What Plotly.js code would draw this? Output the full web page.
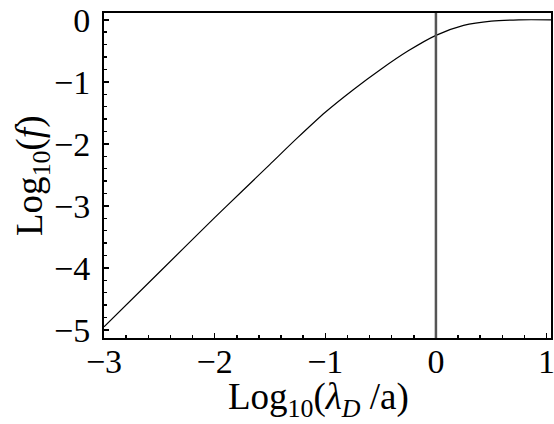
<!DOCTYPE html>
<html>
<head>
<meta charset="utf-8">
<script src="https://cdn.plot.ly/plotly-3.0.1.min.js"></script>
<style>
  body { margin: 0; background: #fff; }
  #chart { width: 554px; height: 424px; }
</style>
</head>
<body>
<div id="chart"></div>
<script>
// curve: log10(lambda_D / a) vs log10(f)
const logLambda = [-3, -2.5, -2, -1.75, -1.5, -1.25, -1, -0.75, -0.5, -0.25, 0, 0.25, 0.5, 0.75, 1.04];
const logF = [-4.95, -4.07, -3.19, -2.76, -2.33, -1.9, -1.49, -1.13, -0.8, -0.5, -0.25, -0.09, -0.02, 0, 0];
// vertical marker line position
const markerX = 0;
const xTitle = 'Log<sub>10</sub>(<i>λ<sub>D</sub></i> /a)';
const yTitle = 'Log<sub>10</sub>(<i>f</i>)';

const serif = 'Liberation Serif';

const curve = {
    x: logLambda,
    y: logF,
    type: 'scatter',
    mode: 'lines',
    line: {color: '#000', width: 1.2, shape: 'spline', smoothing: 0.8},
    hoverinfo: 'skip'
};

const axisCommon = {
    showgrid: false,
    zeroline: false,
    showline: true,
    linecolor: '#000',
    linewidth: 2,
    mirror: true,
    ticks: 'inside',
    ticklen: 5,
    tickwidth: 1.5,
    tickcolor: '#000',
    dtick: 1,
    ticklabeloverflow: 'allow',
    tickfont: {family: serif, size: 34, color: '#000'},
    minor: {dtick: 0.2, ticks: 'inside', ticklen: 3, tickwidth: 1.5, tickcolor: '#000'}
};

const layout = {
    width: 554,
    height: 424,
    margin: {l: 104, r: 3, t: 13, b: 86},
    paper_bgcolor: '#fff',
    plot_bgcolor: '#fff',
    showlegend: false,
    xaxis: Object.assign({}, axisCommon, {range: [-3, 1.04], tick0: -3, ticklabelstandoff: -8}),
    yaxis: Object.assign({}, axisCommon, {range: [-5.13, 0.11], tick0: 0, ticklabelstandoff: 5}),
    // axis titles placed as annotations so they sit where the reference has them
    annotations: [
        {text: xTitle, xref: 'paper', yref: 'paper', x: 0.48, y: -0.19,
         xanchor: 'center', yanchor: 'middle', showarrow: false,
         font: {family: serif, size: 37, color: '#000'}},
        {text: yTitle, xref: 'paper', yref: 'paper', x: -0.16, y: 0.5, textangle: -90,
         xanchor: 'center', yanchor: 'middle', showarrow: false,
         font: {family: serif, size: 37, color: '#000'}}
    ],
    shapes: [{
        type: 'line',
        xref: 'x', yref: 'paper',
        x0: markerX, x1: markerX, y0: 0, y1: 1,
        line: {color: '#555', width: 2.5}
    }]
};

Plotly.newPlot('chart', [curve], layout, {displayModeBar: false, staticPlot: true});
</script>
</body>
</html>
